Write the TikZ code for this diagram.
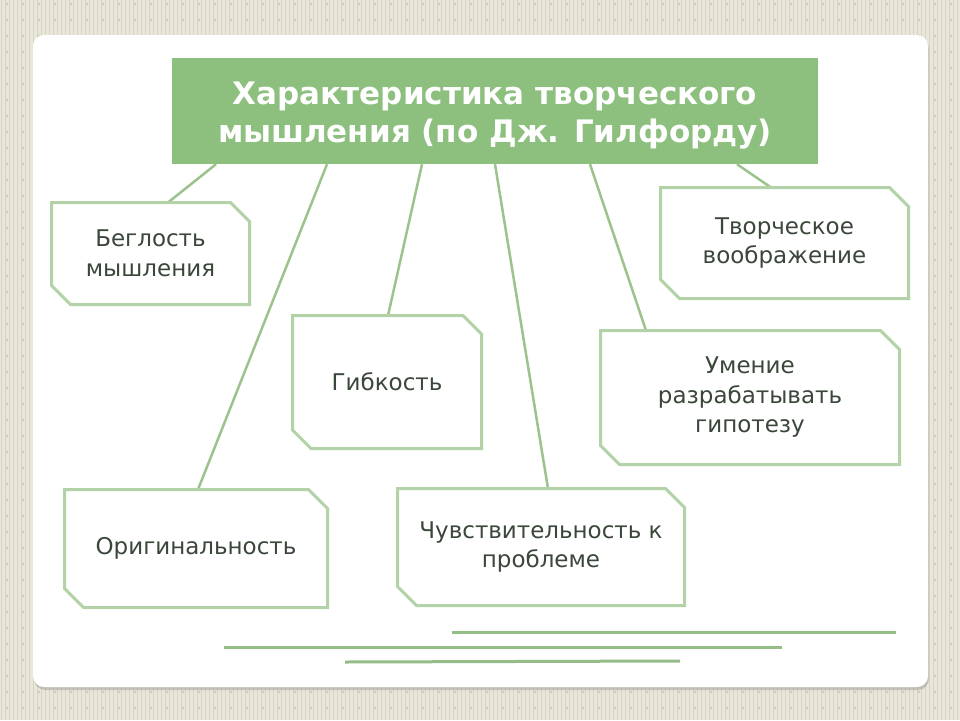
\documentclass[tikz,border=0pt]{standalone}
\usepackage{fontspec}
\setmainfont{DejaVu Sans}
\usetikzlibrary{shapes.misc,calc,shadows}
\definecolor{bgcol}{HTML}{E9E6DA}
\definecolor{stripecol}{HTML}{D8D4C3}
\definecolor{dotcol}{HTML}{CFCBBB}
\definecolor{titlegreen}{HTML}{8DBF7E}
\definecolor{boxborder}{HTML}{B3D2A8}
\definecolor{linkgreen}{HTML}{9CC38E}
\definecolor{rulegreen}{HTML}{95BD87}
\definecolor{txt}{HTML}{3A473A}
\tikzset{
  cbox/.style={chamfered rectangle, chamfered rectangle corners={north east,south west},
    chamfered rectangle xsep=9.5pt, chamfered rectangle ysep=9.5pt,
    draw=boxborder, line width=3pt, fill=white, text=txt, align=center,
    font=\fontsize{23}{29.5}\selectfont, inner sep=0pt},
  link/.style={draw=linkgreen, line width=2.5pt},
  rulel/.style={draw=rulegreen, line width=3pt},
}
\begin{document}
\begin{tikzpicture}[x=1pt,y=-1pt]
\useasboundingbox (0,0) rectangle (960,720);
\fill[bgcol] (0,0) rectangle (960,720);
\foreach \i in {1,5,...,960} \draw[stripecol, line width=1pt] (\i,0) -- (\i,720);
\foreach \x in {7,23,...,960} \foreach \y in {4,20,...,720} \fill[dotcol] (\x,\y) circle (1.3);
\node[draw=none, fill=white, rounded corners=11pt, minimum width=895pt, minimum height=652pt,
  inner sep=0pt, drop shadow={shadow xshift=1pt, shadow yshift=-3pt, opacity=0.35}] (panel) at (480.5,361) {};
\node[fill=titlegreen, minimum width=646pt, minimum height=106pt, inner sep=0pt] (title) at (495,111) {};
\node[text=white, align=center, inner sep=0pt,
  font=\fontsize{31}{38}\bfseries\selectfont] (titletext) at ($(title.center)+(0,5)$) {Характеристика творческого\\мышления (по Дж. Гилфорду)};
% link start points on the title
\coordinate (s1) at ($(title.south)+(-279,0)$);
\coordinate (s2) at ($(title.south)+(-168,0)$);
\coordinate (s3) at ($(title.south)+(-73,0)$);
\coordinate (s4) at ($(title.south)+(0,0)$);
\coordinate (s5) at ($(title.south)+(95,0)$);
\coordinate (s6) at ($(title.south)+(242,0)$);
% box centres
\coordinate (b1) at (150.5,253.5);
\coordinate (b2) at (784.5,243);
\coordinate (b3) at (387,382);
\coordinate (b4) at (750,397.5);
\coordinate (b5) at (196,548.5);
\coordinate (b6) at (541,547);
% links (drawn first, boxes on top)
\draw[link] (s1) -- ($(b1)+(17.5,-51)$);
\draw[link] (s2) -- ($(b5)+(2,-59)$);
\draw[link] (s3) -- ($(b3)+(1,-66.5)$);
\draw[link] (s4) -- ($(b6)+(7,-58.5)$);
\draw[link] (s5) -- ($(b4)+(-104,-67)$);
\draw[link] (s6) -- ($(b2)+(-13.5,-55.5)$);
% boxes
\node[cbox, minimum width=198pt, minimum height=102pt] (n1) at (b1) {Беглость\\мышления};
\node[cbox, minimum width=248pt, minimum height=111pt] (n2) at (b2) {Творческое\\воображение};
\node[cbox, minimum width=189pt, minimum height=133pt] (n3) at (b3) {Гибкость};
\node[cbox, minimum width=299pt, minimum height=134pt] (n4) at (b4) {Умение\\разрабатывать\\гипотезу};
\node[cbox, minimum width=263pt, minimum height=118pt] (n5) at (b5) {Оригинальность};
\node[cbox, minimum width=287pt, minimum height=117pt] (n6) at (b6) {Чувствительность к\\проблеме};
% rules
\coordinate (r1a) at (452,632); \coordinate (r1b) at (896,632);
\coordinate (r2a) at (224,647); \coordinate (r2b) at (782,647);
\coordinate (r3a) at (345,662); \coordinate (r3b) at (680,661);
\draw[rulel] (r1a) -- (r1b);
\draw[rulel] (r2a) -- (r2b);
\draw[rulel] (r3a) -- (r3b);
\end{tikzpicture}
\end{document}
